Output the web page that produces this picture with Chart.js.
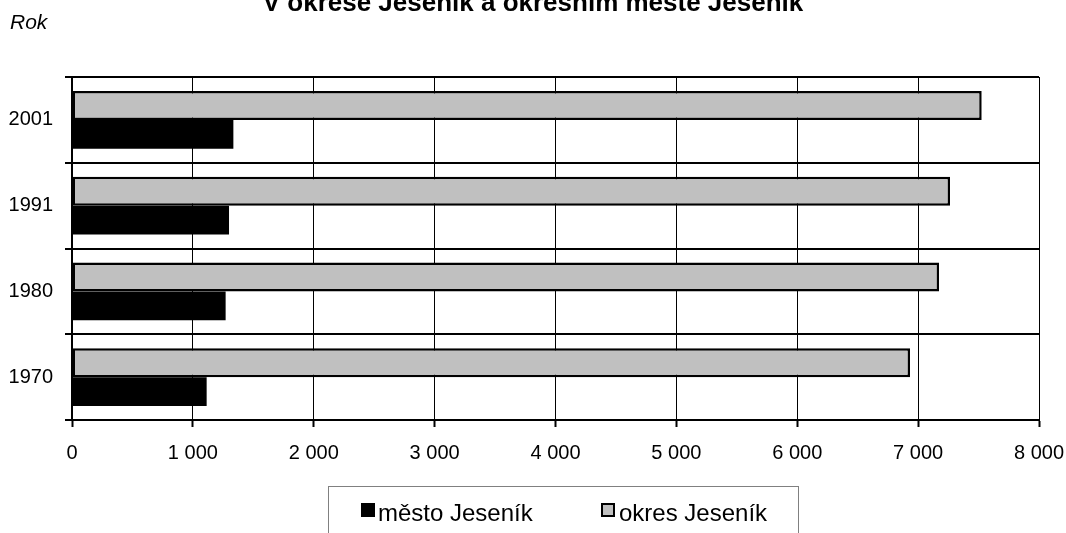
<!DOCTYPE html>
<html>
<head>
<meta charset="utf-8">
<script src="https://cdn.jsdelivr.net/npm/chart.js@4"></script>
<style>
  html, body { margin: 0; padding: 0; background: #fff; }
  #wrap { width: 1066px; height: 533px; position: relative; }
</style>
</head>
<body>
<div id="wrap"><canvas id="graf"></canvas></div>
<script>
// data
const roky = ['2001', '1991', '1980', '1970'];
const okres = [7526, 7264, 7173, 6933];
const mesto = [1335, 1299, 1271, 1114];
const xTicks = [0, 1000, 2000, 3000, 4000, 5000, 6000, 7000, 8000];

const pismo = "'Liberation Sans', Arial, sans-serif";

function tisice(v) {
    return String(v).replace(/\B(?=(\d{3})+(?!\d))/g, ' ');
}

// nadpis, "Rok" a legenda s rameckem
const popisky = {
    id: 'popisky',
    afterDraw(chart) {
        const ctx = chart.ctx;
        ctx.save();
        ctx.fillStyle = '#000';
        ctx.textBaseline = 'alphabetic';
        ctx.textAlign = 'center';
        ctx.font = 'bold 26px ' + pismo;
        ctx.fillText('V okrese Jeseník a okresním městě Jeseník', 533, 11);

        ctx.textAlign = 'left';
        ctx.font = 'italic 21px ' + pismo;
        ctx.fillText('Rok', 10, 29);

        // legenda
        ctx.strokeStyle = '#808080';
        ctx.lineWidth = 1;
        ctx.strokeRect(328.5, 486.5, 470, 60);

        ctx.fillStyle = '#000';
        ctx.fillRect(361, 503, 14, 14);
        ctx.fillStyle = '#c0c0c0';
        ctx.fillRect(601, 503, 14, 14);
        ctx.strokeStyle = '#000';
        ctx.lineWidth = 2;
        ctx.strokeRect(602, 504, 12, 12);

        ctx.fillStyle = '#000';
        ctx.font = '24px ' + pismo;
        ctx.fillText(chart.data.datasets[1].label, 378, 521);
        ctx.fillText(chart.data.datasets[0].label, 619, 521);
        ctx.restore();
    }
};

const ctx = document.getElementById('graf').getContext('2d');
const graf = new Chart(ctx, {
    type: 'bar',
    data: {
        labels: roky,
        datasets: [
            {
                label: 'okres Jeseník',
                data: okres,
                backgroundColor: '#c0c0c0',
                borderColor: '#000',
                borderWidth: 2.5,
                borderSkipped: false
            },
            {
                label: 'město Jeseník',
                data: mesto,
                backgroundColor: '#000',
                borderColor: '#000',
                borderWidth: 0
            }
        ]
    },
    options: {
        indexAxis: 'y',
        responsive: true,
        maintainAspectRatio: false,
        animation: false,
        datasets: {
            bar: { categoryPercentage: 0.674, barPercentage: 1 }
        },
        layout: {
            padding: { top: 77, right: 27, bottom: 0, left: 0 }
        },
        plugins: {
            legend: { display: false },
            title: { display: false },
            tooltip: { enabled: false }
        },
        scales: {
            x: {
                min: 0,
                max: 8000,
                afterBuildTicks(scale) {
                    scale.ticks = xTicks.map(v => ({ value: v }));
                },
                afterFit(scale) {
                    scale.height = 113;
                    scale.paddingRight = 0;
                    scale.paddingLeft = 0;
                },
                grid: {
                    color: '#000',
                    lineWidth: 1,
                    drawTicks: true,
                    tickLength: 7,
                    tickWidth: 2,
                    tickColor: '#000'
                },
                border: { color: '#000', width: 2 },
                ticks: {
                    color: '#000',
                    font: { family: pismo, size: 20 },
                    padding: 14,
                    maxRotation: 0,
                    callback: v => tisice(v)
                }
            },
            y: {
                afterFit(scale) { scale.width = 72; },
                grid: {
                    color: '#000',
                    lineWidth: 2,
                    offset: true,
                    drawTicks: true,
                    tickLength: 7,
                    tickColor: '#000'
                },
                border: { color: '#000', width: 2 },
                ticks: {
                    color: '#000',
                    font: { family: pismo, size: 20 },
                    padding: 12
                }
            }
        }
    },
    plugins: [popisky]
});
</script>
</body>
</html>
